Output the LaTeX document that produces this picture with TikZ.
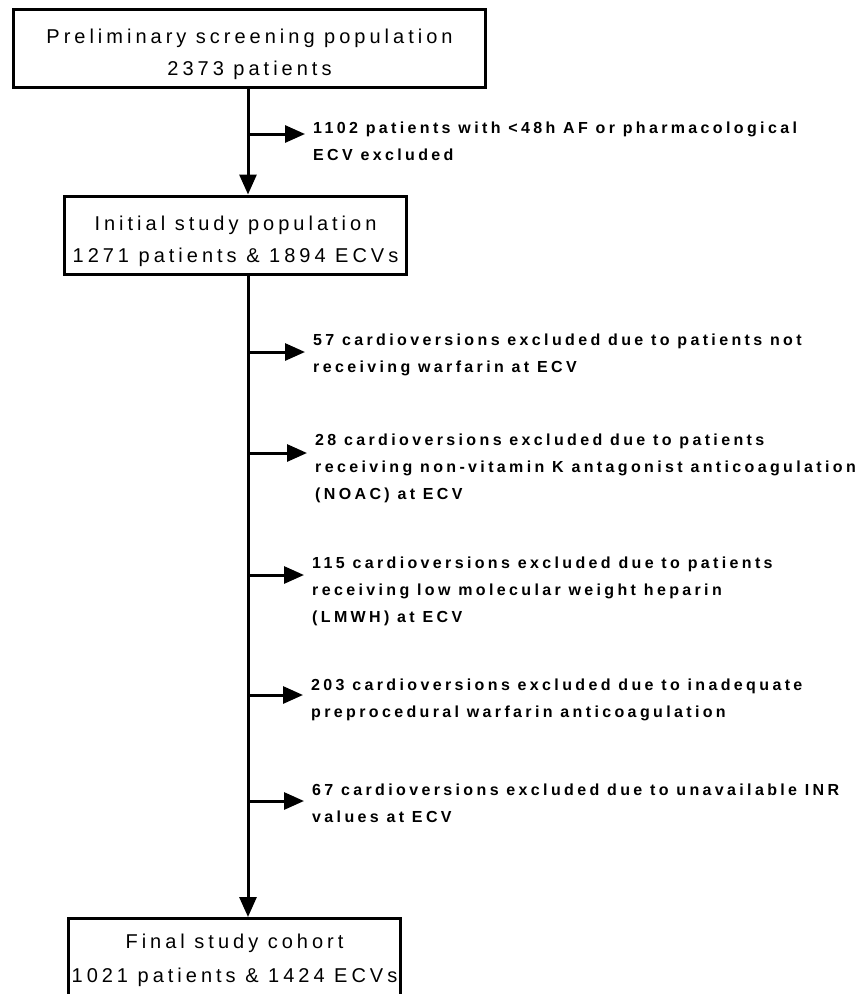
\documentclass[tikz,border=0pt]{standalone}
\usepackage{fontspec}
\newfontfamily\boxfont[LetterSpace=20]{Liberation Sans}
\newfontfamily\exfont[LetterSpace=21]{Liberation Sans}
\usetikzlibrary{arrows.meta}

\begin{document}
\begin{tikzpicture}[x=1pt,y=-1pt,
  stagebox/.style={draw,line width=3pt,align=center,inner sep=0pt,anchor=base,text height=66pt,text depth=12.5pt,font=\boxfont\fontsize{20}{32}\selectfont},
  extext/.style={anchor=base west,align=left,inner xsep=8pt,inner ysep=0pt,font=\exfont\bfseries\fontsize{16}{27}\selectfont},
  flow/.style={line width=3pt,-{Triangle[length=20pt,width=17pt]}}]
\useasboundingbox (0,0) rectangle (859,994);
\clip (0,0) rectangle (859,994);
% stages
\node[stagebox,text height=65.5pt,minimum width=472pt] (prelim) at (249.5,75) {Preliminary screening population\\2373 patients};
\node[stagebox,minimum width=342pt] (initial) at (235.5,262) {Initial study population\\1271 patients \& 1894 ECVs};
\node[stagebox,text height=63.5pt,text depth=14pt,minimum width=332pt,font=\boxfont\fontsize{20}{34}\selectfont] (final) at (234.5,982) {Final study cohort\\1021 patients \& 1424 ECVs};
\coordinate (spine) at (248,0);
\draw[flow] (prelim.south -| spine) -- (initial.north -| spine);
\draw[flow] (initial.south -| spine) -- (final.north -| spine);
% exclusions
\node[extext] (ex1) at (305,160) {1102 patients with <48h AF or pharmacological\\ECV excluded};
\node[extext] (ex2) at (305,372) {57 cardioversions excluded due to patients not\\receiving warfarin at ECV};
\node[extext] (ex3) at (307,499) {28 cardioversions excluded due to patients\\receiving non-vitamin K antagonist anticoagulation\\(NOAC) at ECV};
\node[extext] (ex4) at (304,622) {115 cardioversions excluded due to patients\\receiving low molecular weight heparin\\(LMWH) at ECV};
\node[extext] (ex5) at (303,717) {203 cardioversions excluded due to inadequate\\preprocedural warfarin anticoagulation};
\node[extext] (ex6) at (304,822) {67 cardioversions excluded due to unavailable INR\\values at ECV};
\foreach \n/\y in {1/134,2/352,3/453,4/575,5/695,6/801}{
  \path (spine) ++(0,\y) coordinate (b\n);
  \draw[flow] (b\n) -- (b\n -| ex\n.west);
}
\end{tikzpicture}
\end{document}
